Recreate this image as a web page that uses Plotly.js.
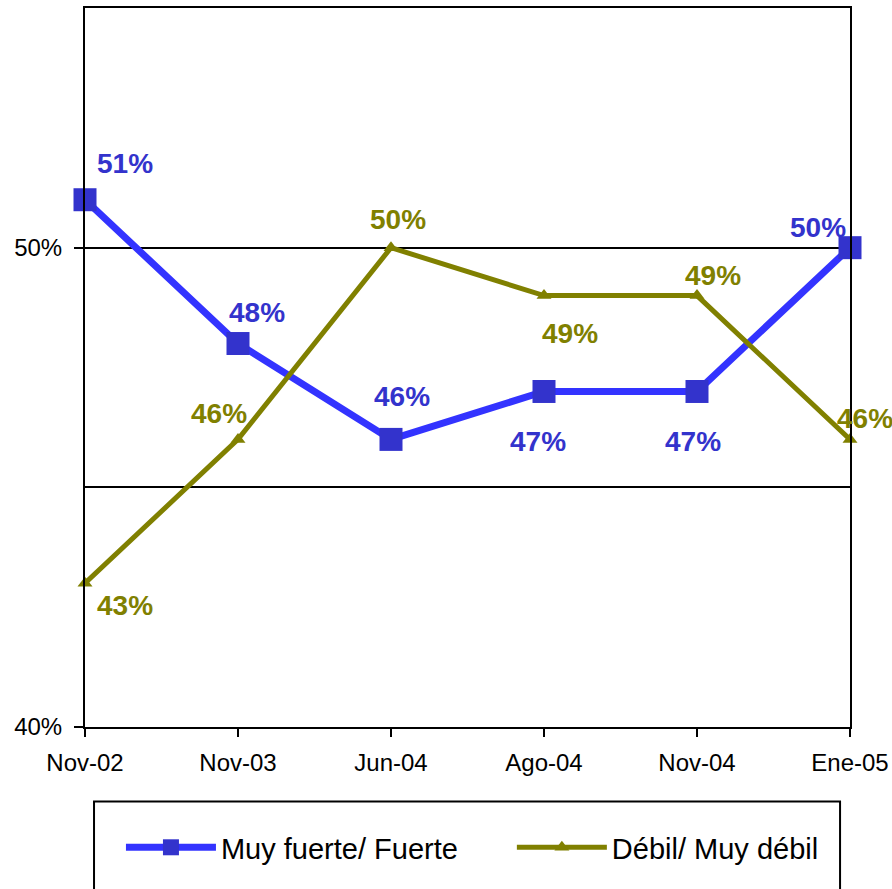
<!DOCTYPE html>
<html>
<head>
<meta charset="utf-8">
<script src="https://cdn.plot.ly/plotly-3.0.1.min.js"></script>
<style>
  html, body { margin: 0; padding: 0; background: #ffffff; }
  #chart { width: 892px; height: 889px; }
</style>
</head>
<body>
<div id="chart"></div>
<script>
// ---- data ----
var categories = ['Nov-02', 'Nov-03', 'Jun-04', 'Ago-04', 'Nov-04', 'Ene-05'];
var fuerteName = 'Muy fuerte/ Fuerte';
var debilName = 'Débil/ Muy débil';
var fuerteValues = [51, 48, 46, 47, 47, 50];
var debilValues = [43, 46, 50, 49, 49, 46];
var yTickVals = [40, 50];
var yTickText = ['40%', '50%'];

// ---- label offsets (px, style only) ----
var fuerteLabelDX = [40, 19, 11, -6, -4, -32];
var fuerteLabelDY = [36, 31, 43, -50, -50, 20];
var debilLabelDX = [40, -19, 7, 26, 16, 15];
var debilLabelDY = [-22, 26, 28, -38, 20, 21];

var blueLine = '#3333FF';
var blueMarker = '#3333CC';
var olive = '#808000';
var FONT = '"Liberation Sans", Arial, sans-serif';

var traces = [
  {
    type: 'scatter', mode: 'lines+markers', name: fuerteName,
    x: categories, y: fuerteValues,
    line: { color: blueLine, width: 7 },
    marker: { symbol: 'square', size: 23, color: blueMarker, line: { width: 0 } },
    cliponaxis: false, legend: 'legend'
  },
  {
    type: 'scatter', mode: 'lines+markers', name: debilName,
    x: categories, y: debilValues,
    line: { color: olive, width: 5 },
    marker: { symbol: 'triangle-up', size: 13, color: olive, line: { width: 0 } },
    cliponaxis: false, legend: 'legend2'
  }
];

var annotations = [];
function addLabels(vals, dx, dy, color) {
  for (var i = 0; i < vals.length; i++) {
    annotations.push({
      x: categories[i], y: vals[i], xref: 'x', yref: 'y',
      text: vals[i] + '%', showarrow: false,
      xanchor: 'center', yanchor: 'middle',
      xshift: dx[i], yshift: dy[i],
      font: { family: FONT, size: 28, color: color, weight: 'bold' }
    });
  }
}
addLabels(fuerteValues, fuerteLabelDX, fuerteLabelDY, blueMarker);
addLabels(debilValues, debilLabelDX, debilLabelDY, olive);

var legendStyle = function (xpos) {
  return {
    orientation: 'h', x: xpos, xanchor: 'left', y: -0.1675, yanchor: 'middle',
    font: { family: FONT, size: 29, color: '#000000' },
    bgcolor: 'rgba(0,0,0,0)', borderwidth: 0, itemwidth: 90
  };
};

var layout = {
  width: 892, height: 889,
  margin: { l: 85, r: 42, t: 8, b: 161.5 },
  paper_bgcolor: '#ffffff', plot_bgcolor: '#ffffff',
  font: { family: FONT, color: '#000000' },
  showlegend: true,
  legend: legendStyle(0.047),
  legend2: legendStyle(0.558),
  xaxis: {
    type: 'category', range: [0, 5],
    showline: true, linecolor: '#000000', linewidth: 2, mirror: true,
    showgrid: false, zeroline: false,
    ticks: 'outside', ticklen: 8, tickwidth: 2, tickcolor: '#000000',
    ticklabelstandoff: 5,
    tickfont: { family: FONT, size: 24, color: '#000000' },
    fixedrange: true
  },
  yaxis: {
    range: [40, 55],
    tickmode: 'array', tickvals: yTickVals, ticktext: yTickText,
    showline: true, linecolor: '#000000', linewidth: 2, mirror: true,
    showgrid: true, gridcolor: '#000000', gridwidth: 2,
    zeroline: false,
    ticks: 'outside', ticklen: 9, tickwidth: 2, tickcolor: '#000000',
    ticklabelstandoff: 7,
    tickfont: { family: FONT, size: 24, color: '#000000' },
    minor: { dtick: 5, tick0: 40, showgrid: true, gridcolor: '#000000', gridwidth: 2, ticks: '' },
    fixedrange: true
  },
  annotations: annotations,
  shapes: [
    {
      type: 'rect', xref: 'paper', yref: 'paper',
      x0: 0.0118, x1: 0.987, y0: -0.26, y1: -0.1035,
      line: { color: '#000000', width: 2 }, fillcolor: 'rgba(0,0,0,0)',
      layer: 'above'
    }
  ]
};

Plotly.newPlot('chart', traces, layout, { displayModeBar: false, staticPlot: true });
</script>
</body>
</html>
